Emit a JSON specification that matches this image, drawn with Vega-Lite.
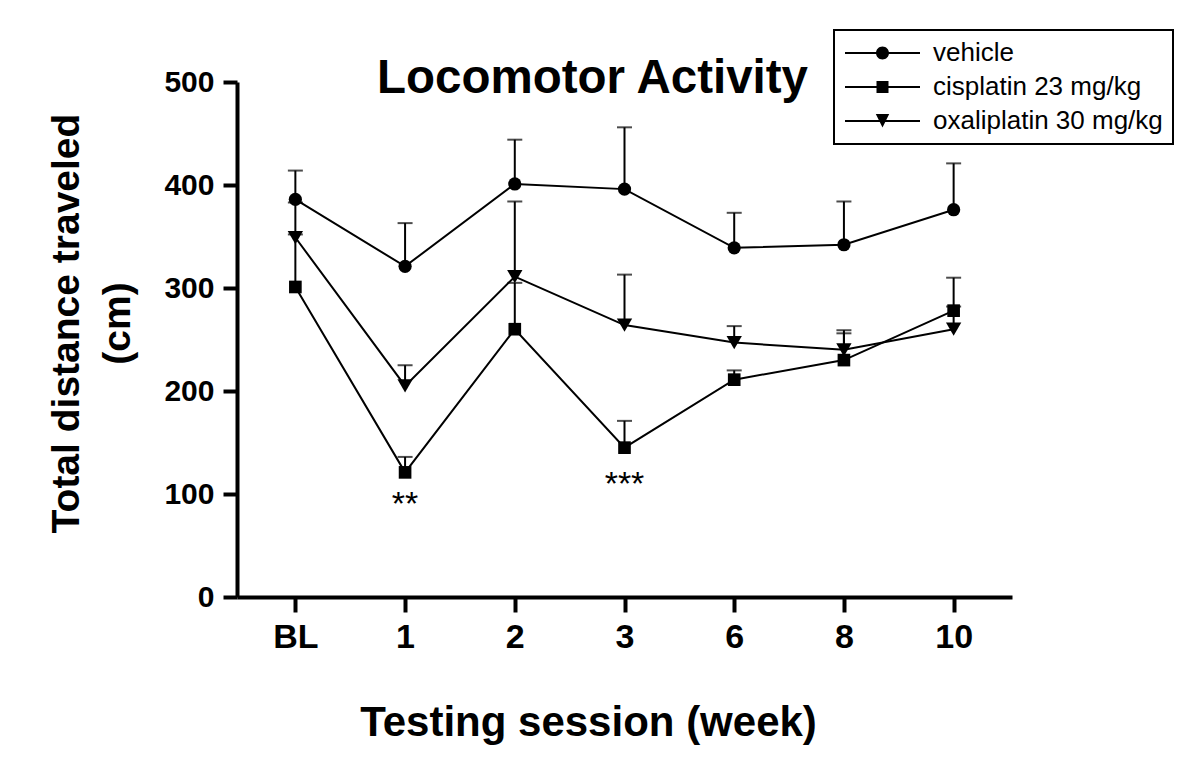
{
  "$schema": "https://vega.github.io/schema/vega-lite/v6.json",
  "width": 775,
  "height": 515,
  "autosize": "none",
  "padding": {"left": 237, "top": 82, "right": 188, "bottom": 185},
  "background": "white",
  "title": {
    "text": "Locomotor Activity",
    "fontSize": 47.5,
    "font": "Liberation Sans",
    "fontWeight": "bold",
    "color": "black",
    "anchor": "middle",
    "dx": -32,
    "dy": 111,
    "offset": 0,
    "baseline": "alphabetic"
  },
  "datasets": {
    "stats": [
      {"series": "vehicle", "week": "BL", "mean": 386, "upper": 414},
      {"series": "vehicle", "week": "1", "mean": 321, "upper": 363},
      {"series": "vehicle", "week": "2", "mean": 401, "upper": 444},
      {"series": "vehicle", "week": "3", "mean": 396, "upper": 456},
      {"series": "vehicle", "week": "6", "mean": 339, "upper": 373},
      {"series": "vehicle", "week": "8", "mean": 342, "upper": 384},
      {"series": "vehicle", "week": "10", "mean": 376, "upper": 421},
      {"series": "cisplatin 23 mg/kg", "week": "BL", "mean": 301, "upper": 352},
      {"series": "cisplatin 23 mg/kg", "week": "1", "mean": 121, "upper": 136},
      {"series": "cisplatin 23 mg/kg", "week": "2", "mean": 260, "upper": 305},
      {"series": "cisplatin 23 mg/kg", "week": "3", "mean": 145, "upper": 171},
      {"series": "cisplatin 23 mg/kg", "week": "6", "mean": 211, "upper": 220},
      {"series": "cisplatin 23 mg/kg", "week": "8", "mean": 230, "upper": 256},
      {"series": "cisplatin 23 mg/kg", "week": "10", "mean": 278, "upper": 310},
      {"series": "oxaliplatin 30 mg/kg", "week": "BL", "mean": 349, "upper": 383},
      {"series": "oxaliplatin 30 mg/kg", "week": "1", "mean": 205, "upper": 225},
      {"series": "oxaliplatin 30 mg/kg", "week": "2", "mean": 311, "upper": 384},
      {"series": "oxaliplatin 30 mg/kg", "week": "3", "mean": 264, "upper": 313},
      {"series": "oxaliplatin 30 mg/kg", "week": "6", "mean": 247, "upper": 263},
      {"series": "oxaliplatin 30 mg/kg", "week": "8", "mean": 240, "upper": 259},
      {"series": "oxaliplatin 30 mg/kg", "week": "10", "mean": 260, "upper": 282}
    ],
    "notes": [
      {"week": "1", "pos": 80, "label": "**"},
      {"week": "3", "pos": 99, "label": "***"}
    ]
  },
  "data": {"name": "stats"},
  "encoding": {
    "x": {
      "field": "week",
      "type": "ordinal",
      "sort": ["BL", "1", "2", "3", "6", "8", "10"],
      "scale": {"type": "point", "padding": 0.532},
      "axis": {
        "title": "Testing session (week)",
        "labelAngle": 0,
        "labelFontSize": 34,
        "labelFontWeight": "bold",
        "labelPadding": 8,
        "tickSize": 15,
        "tickWidth": 4,
        "domainWidth": 4,
        "titleFontSize": 42,
        "titleFontWeight": "bold",
        "titleX": 351,
        "titleY": 138,
        "titleBaseline": "alphabetic",
        "titleAlign": "center"
      }
    },
    "y": {
      "field": "mean",
      "type": "quantitative",
      "scale": {"domain": [0, 500], "nice": false, "zero": true},
      "axis": {
        "values": [0, 100, 200, 300, 400, 500],
        "title": ["Total distance traveled", "(cm)"],
        "labelFontSize": 30,
        "labelFontWeight": "bold",
        "labelPadding": 9,
        "tickSize": 14,
        "tickWidth": 4,
        "domainWidth": 4,
        "titleFontSize": 39,
        "titleFontWeight": "bold",
        "titleLineHeight": 51,
        "titleX": -190,
        "titleY": 241,
        "titleBaseline": "top",
        "titleAlign": "center",
        "titleAngle": -90
      }
    }
  },
  "layer": [
    {
      "mark": {"type": "rule", "color": "black", "strokeWidth": 2},
      "encoding": {"y2": {"field": "upper"}}
    },
    {
      "mark": {"type": "tick", "orient": "horizontal", "color": "black", "size": 15, "thickness": 2},
      "encoding": {"y": {"field": "upper", "type": "quantitative"}}
    },
    {
      "mark": {"type": "line", "color": "black", "strokeWidth": 2},
      "encoding": {"detail": {"field": "series"}}
    },
    {
      "transform": [{"filter": "datum.series == 'vehicle'"}],
      "mark": {"type": "point", "shape": "circle", "filled": true, "color": "black", "opacity": 1, "size": 175, "strokeWidth": 1},
      "encoding": {}
    },
    {
      "transform": [{"filter": "datum.series == 'cisplatin 23 mg/kg'"}],
      "mark": {"type": "point", "shape": "square", "filled": true, "color": "black", "opacity": 1, "size": 160, "strokeWidth": 1},
      "encoding": {}
    },
    {
      "transform": [{"filter": "datum.series == 'oxaliplatin 30 mg/kg'"}],
      "mark": {"type": "point", "shape": "triangle-down", "filled": true, "color": "black", "opacity": 1, "size": 235, "strokeWidth": 1},
      "encoding": {}
    },
    {
      "mark": {"type": "point", "filled": true, "color": "black", "opacity": 0, "size": 10},
      "encoding": {
        "shape": {
          "field": "series",
          "type": "nominal",
          "scale": {
            "domain": ["vehicle", "cisplatin 23 mg/kg", "oxaliplatin 30 mg/kg"],
            "range": [
              "M-1.2,-0.1L6.3,-0.1L6.3,0.1L-1.2,0.1ZM3.2,0A0.65,0.65,0,1,1,1.9,0A0.65,0.65,0,1,1,3.2,0Z",
              "M-1.2,-0.1L6.3,-0.1L6.3,0.1L-1.2,0.1ZM1.95,-0.6L3.15,-0.6L3.15,0.6L1.95,0.6Z",
              "M-1.2,-0.1L6.3,-0.1L6.3,0.1L-1.2,0.1ZM1.88,-0.7L3.22,-0.7L2.55,0.65Z"
            ]
          },
          "legend": {
            "orient": "none",
            "legendX": 597,
            "legendY": -52,
            "title": null,
            "strokeColor": "black",
            "fillColor": "white",
            "padding": 10,
            "symbolSize": 400,
            "symbolStrokeWidth": 0,
            "symbolFillColor": "black",
            "symbolStrokeColor": "black",
            "symbolOpacity": 1,
            "labelFontSize": 26,
            "labelFont": "Liberation Sans",
            "labelColor": "black",
            "labelOffset": 63,
            "labelLimit": 400,
            "rowPadding": 8
          }
        }
      }
    },
    {
      "data": {"name": "notes"},
      "mark": {"type": "text", "color": "black", "fontSize": 34, "font": "Liberation Sans", "baseline": "alphabetic", "align": "center"},
      "encoding": {
        "y": {"field": "pos", "type": "quantitative"},
        "text": {"field": "label"}
      }
    }
  ],
  "config": {
    "font": "Liberation Sans",
    "view": {"stroke": null},
    "axis": {
      "grid": false,
      "domainColor": "black",
      "tickColor": "black",
      "labelColor": "black",
      "titleColor": "black",
      "labelFont": "Liberation Sans",
      "titleFont": "Liberation Sans"
    },
    "legend": {"strokeWidth": 2}
  }
}
